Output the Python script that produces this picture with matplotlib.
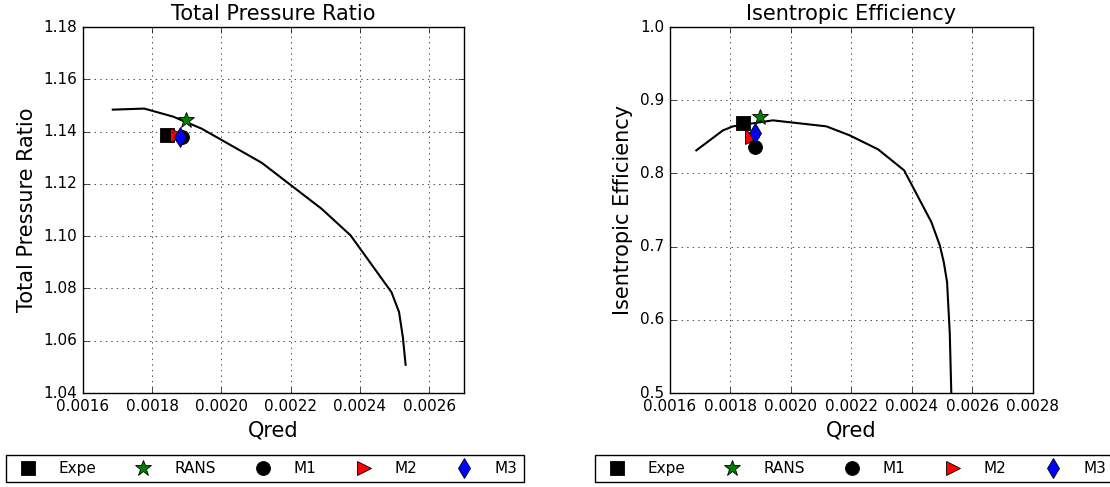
import matplotlib
matplotlib.use("Agg")
import matplotlib.pyplot as plt
import numpy as np

plt.style.use("classic")
plt.rcParams['figure.facecolor'] = 'white'
plt.rcParams['savefig.facecolor'] = 'white'
plt.rcParams['font.family'] = ['DejaVu Sans']

# RANS characteristic lines
qred_pr = [0.001686, 0.001777, 0.001861, 0.001943, 0.002116, 0.002289,
           0.002373, 0.002491, 0.002513, 0.002524, 0.002532]
pr_line = [1.1484, 1.1488, 1.1457, 1.1411, 1.1281, 1.1105,
           1.1003, 1.0786, 1.0710, 1.0614, 1.0508]

qred_eff = [0.001687, 0.001775, 0.001808, 0.001940, 0.002117, 0.002194,
            0.002288, 0.002374, 0.002464, 0.002492, 0.002505, 0.002516,
            0.002525, 0.002530]
eff_line = [0.8315, 0.8588, 0.8643, 0.8725, 0.8643, 0.8520,
            0.8329, 0.8042, 0.7336, 0.7017, 0.6790, 0.6516,
            0.5810, 0.5000]

# single operating points
names = ["Expe", "RANS", "M1", "M2", "M3"]
pt_qred_pr = [0.001842, 0.001898, 0.001885, 0.001871, 0.001880]
pt_pr = [1.1388, 1.1443, 1.1379, 1.1386, 1.1379]
pt_qred_eff = [0.001841, 0.001896, 0.001882, 0.001872, 0.001882]
pt_eff = [0.8689, 0.8770, 0.8360, 0.8497, 0.8550]

markers = ["s", "*", "o", ">", "d"]
colors = ["black", "green", "black", "red", "blue"]
sizes = [10, 12, 10, 10, 10]

fig = plt.figure(figsize=(11.1, 4.87), dpi=100)
ax1 = fig.add_axes([0.0748, 0.193, 0.343, 0.7515])
ax2 = fig.add_axes([0.6036, 0.193, 0.327, 0.7515])


def draw(ax, qx, qy, px, py, xc):
    ax.plot(qx, qy, "-", color="black", lw=1.5)
    for i in range(len(names)):
        ax.plot(px[i], py[i], linestyle="none", marker=markers[i],
                color=colors[i], markersize=sizes[i], markeredgecolor="black",
                markeredgewidth=0.6, label=names[i])
    ax.grid(True, color="black", linestyle=":")
    ax.set_xlabel("Qred", fontsize=15)
    ax.tick_params(labelsize=11)
    ax.legend(loc="upper center", bbox_to_anchor=(xc, -0.17), ncol=5,
              numpoints=1, fontsize=11, handletextpad=1.0, columnspacing=2.1,
              borderaxespad=0.0)


draw(ax1, qred_pr, pr_line, pt_qred_pr, pt_pr, 0.478)
ax1.set_xlim(0.0016, 0.0027)
ax1.set_ylim(1.04, 1.18)
ax1.set_xticks(np.arange(0.0016, 0.00261, 0.0002))
ax1.set_title("Total Pressure Ratio", fontsize=15)
ax1.set_ylabel("Total Pressure Ratio", fontsize=15)

draw(ax2, qred_eff, eff_line, pt_qred_eff, pt_eff, 0.507)
ax2.set_xlim(0.0016, 0.0028)
ax2.set_ylim(0.5, 1.0)
ax2.set_xticks(np.arange(0.0016, 0.00281, 0.0002))
ax2.set_title("Isentropic Efficiency", fontsize=15)
ax2.set_ylabel("Isentropic Efficiency", fontsize=15)

fig.savefig("out.png", dpi=100)
